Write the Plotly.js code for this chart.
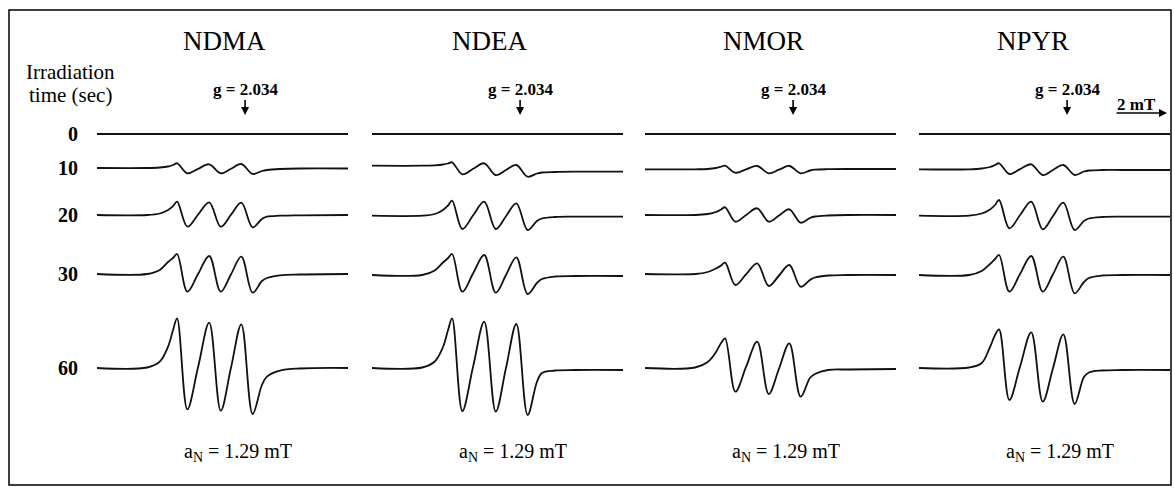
<!DOCTYPE html>
<html>
<head>
<meta charset="utf-8">
<script src="https://cdn.plot.ly/plotly-3.0.1.min.js"></script>
<style>html,body{margin:0;padding:0;background:#fff}#chart{width:1174px;height:489px}</style>
</head>
<body>
<div id="chart"></div>
<script>
// ---------------- data ----------------
const compounds = ['NDMA', 'NDEA', 'NMOR', 'NPYR'];
const irradiationTimes = ['0', '10', '20', '30', '60'];
// magnetic field sample points (mT from the left end of each spectrum)
const fieldMT = [0, 2.0, 2.5, 2.83, 3.03, 3.19, 3.6, 4.03, 4.47, 4.93, 5.34, 5.75, 6.2, 6.57, 6.77, 7.29, 8.09, 10.0];
// ESR signal (arbitrary units) at the field points above
const ndma0  = [0, 0, 0, 0, 0, 0, 0, 0, 0, 0, 0, 0, 0, 0, 0, 0, 0, 0];
const ndma10 = [0.5, 0.5, 1.0, 2.0, 3.5, 5.2, -4.8, -0.3, 4.2, -4.8, -0.2, 4.5, -5.5, -2.5, -1.5, -0.5, 0, 0];
const ndma20 = [0, 0, 1.5, 5, 9, 13.3, -11.7, 0.5, 12.7, -11.7, 0.3, 12.3, -12.3, -4, -1.7, -0.7, -0.3, 0];
const ndma30 = [0, 0, 4, 12, 16, 20, -17.7, 0.2, 18, -17.7, -0.2, 17.3, -18.7, -7, -4, -1.3, -0.5, 0];
const ndma60 = [0, 0.5, 6.3, 21.3, 38, 49.7, -41.3, 1.3, 45.3, -42.7, 0.5, 43.7, -46, -17, -8.7, -2.7, -0.5, 0];
const ndea0  = [0, 0, 0, 0, 0, 0, 0, 0, 0, 0, 0, 0, 0, 0, 0, 0, 0, 0];
const ndea10 = [2.8, 2.8, 3.2, 4, 5, 6.2, -5.8, -0.3, 5.2, -6.5, -1.5, 3.5, -8.2, -5, -4, -3.5, -3.2, -3.2];
const ndea20 = [-0.7, -0.7, 1, 5, 9.5, 14.3, -14, -0.3, 13.3, -14, -1.2, 11.7, -15, -6, -3.5, -2, -1.7, -1.7];
const ndea30 = [-1, -1, 3.5, 11.5, 16, 20, -17.7, 0.7, 19, -18.7, -1, 16.7, -20, -9, -5, -2.5, -2, -2];
const ndea60 = [0, 0.5, 6.5, 21, 38, 49.7, -43, 1.6, 46.3, -43.7, 0.2, 44, -47, -14, -5, -2.5, -2, -2];
const nmor0  = [0, 0, 0, 0, 0, 0, 0, 0, 0, 0, 0, 0, 0, 0, 0, 0, 0, 0];
const nmor10 = [-0.8, -0.8, -0.5, 0.5, 1.8, 2.8, -4.2, -0.8, 2.5, -4.8, -1.2, 2.5, -4.8, -2, -1.2, -0.7, -0.5, -0.5];
const nmor20 = [0, 0, 1, 3, 5.5, 7.7, -6.7, 0, 6.7, -6.7, -0.5, 5.7, -7.7, -3, -1.5, -0.5, 0, 0];
const nmor30 = [0, 0, 2, 5.5, 8.5, 11.3, -11, -0.2, 10.7, -12, -1.5, 9, -12.7, -6, -3.5, -1.5, -1, -1];
const nmor60 = [0, 0.5, 6, 16, 25, 29.7, -23.7, 1.3, 26.3, -26, -0.6, 24.7, -28.7, -10, -6, -2, -1.5, -1];
const npyr0  = [0, 0, 0, 0, 0, 0, 0, 0, 0, 0, 0, 0, 0, 0, 0, 0, 0, 0];
const npyr10 = [-0.8, -0.8, 0, 1.5, 3.5, 5.2, -5.5, -0.6, 4.2, -6.5, -1.5, 3.5, -6.5, -3, -2, -1.5, -1.5, -1.5];
const npyr20 = [-0.7, -0.7, 1.5, 5.5, 10, 15, -13.3, 0, 13.3, -14.3, -1, 12.3, -15, -6, -3.5, -2, -1.7, -1.7];
const npyr30 = [-1, -1, 3, 10, 15, 19, -17.7, 0.2, 18, -17.7, -0.2, 17.3, -19.3, -8, -4, -1.5, -1, -1];
const npyr60 = [0, 0.5, 5, 21, 33, 38.7, -32, 1.8, 35.7, -33.7, 0, 33.7, -36, -9, -4.5, -2.5, -2, -2];
const gLabel = 'g = 2.034';
const gFieldMT = 5.9;
const hyperfineLabel = 'a<sub>N</sub> = 1.29 mT';
const scaleBarMT = 2;

// ---------------- layout ----------------
const spectra = [
  [ndma0, ndma10, ndma20, ndma30, ndma60],
  [ndea0, ndea10, ndea20, ndea30, ndea60],
  [nmor0, nmor10, nmor20, nmor30, nmor60],
  [npyr0, npyr10, npyr20, npyr30, npyr60]
];
const W = 1174, H = 489;
const panelStartPx = [97, 372, 645, 919];
const panelWidthPx = 251;
const rowBaselinePx = [134, 168.5, 215, 274, 368];
const rowHalfPx = 60;
const titleCenterPx = [224, 489, 763, 1033];
const FONT = 'Liberation Serif, Times New Roman, serif';

const py = p => 1 - p / H;
const px = p => p / W;
const xName = c => 'x' + (c ? c + 1 : '');
const yName = r => 'y' + (r ? r + 1 : '');

const layout = {
  width: W, height: H,
  margin: {l: 0, r: 0, t: 0, b: 0},
  paper_bgcolor: '#fff', plot_bgcolor: 'rgba(0,0,0,0)',
  showlegend: false,
  font: {family: FONT, color: '#000'},
  annotations: [], shapes: []
};
compounds.forEach((name, c) => {
  layout['xaxis' + (c ? c + 1 : '')] = {
    domain: [px(panelStartPx[c]), px(panelStartPx[c] + panelWidthPx)],
    range: [0, 10], visible: false, fixedrange: true, anchor: 'y'
  };
});
irradiationTimes.forEach((t, r) => {
  const b = rowBaselinePx[r];
  layout['yaxis' + (r ? r + 1 : '')] = {
    domain: [py(b + rowHalfPx), py(b - rowHalfPx)],
    range: [-rowHalfPx, rowHalfPx], visible: false, fixedrange: true, anchor: 'x'
  };
});

const traces = [];
spectra.forEach((rows, c) => {
  rows.forEach((vals, r) => {
    traces.push({
      type: 'scatter', mode: 'lines',
      x: fieldMT, y: vals,
      xaxis: xName(c), yaxis: yName(r),
      line: {color: '#111', width: 1.8, shape: 'spline', smoothing: 1},
      hoverinfo: 'skip'
    });
  });
});

const A = layout.annotations;
compounds.forEach((name, c) => {
  A.push({xref: 'paper', yref: 'paper', x: px(titleCenterPx[c]), y: py(41),
    text: name, showarrow: false, xanchor: 'center', yanchor: 'middle',
    font: {size: 27, family: FONT}});
  A.push({xref: xName(c), yref: 'paper', x: gFieldMT, y: py(115),
    text: '<b>' + gLabel + '</b>', showarrow: true, arrowhead: 2, arrowsize: 1,
    arrowwidth: 1.6, arrowcolor: '#000', ax: 0, ay: -26, standoff: 0,
    font: {size: 17, family: FONT}});
  A.push({xref: xName(c), yref: 'paper', x: 5.6, y: py(452),
    text: hyperfineLabel, showarrow: false, xanchor: 'center', yanchor: 'middle',
    font: {size: 20, family: FONT}});
});
A.push({xref: 'paper', yref: 'paper', x: px(70), y: py(72), text: 'Irradiation',
  showarrow: false, xanchor: 'center', yanchor: 'middle', font: {size: 21, family: FONT}});
A.push({xref: 'paper', yref: 'paper', x: px(70), y: py(95), text: 'time (sec)',
  showarrow: false, xanchor: 'center', yanchor: 'middle', font: {size: 21, family: FONT}});
irradiationTimes.forEach((t, r) => {
  A.push({xref: 'paper', yref: 'paper', x: px(80), y: py(rowBaselinePx[r]),
    text: '<b>' + t + '</b>', showarrow: false, xanchor: 'right', yanchor: 'middle',
    font: {size: 20, family: FONT}});
});
// 2 mT scale arrow
A.push({xref: 'x4', yref: 'paper', x: 9.88, y: py(113), axref: 'x4', ax: 9.88 - scaleBarMT - 0.07,
  ayref: 'pixel', ay: 0, text: '', showarrow: true, arrowhead: 2, arrowsize: 1,
  arrowwidth: 1.6, arrowcolor: '#000', standoff: 0});
A.push({xref: 'x4', yref: 'paper', x: 8.65, y: py(105), text: '<b>' + scaleBarMT + ' mT</b>',
  showarrow: false, xanchor: 'center', yanchor: 'middle', font: {size: 17, family: FONT}});

layout.shapes.push({type: 'rect', xref: 'paper', yref: 'paper',
  x0: px(9), x1: px(1171), y0: py(485), y1: py(10),
  line: {color: '#000', width: 1.5}, fillcolor: 'rgba(0,0,0,0)'});

Plotly.newPlot('chart', traces, layout, {staticPlot: true, displayModeBar: false});
</script>
</body>
</html>
